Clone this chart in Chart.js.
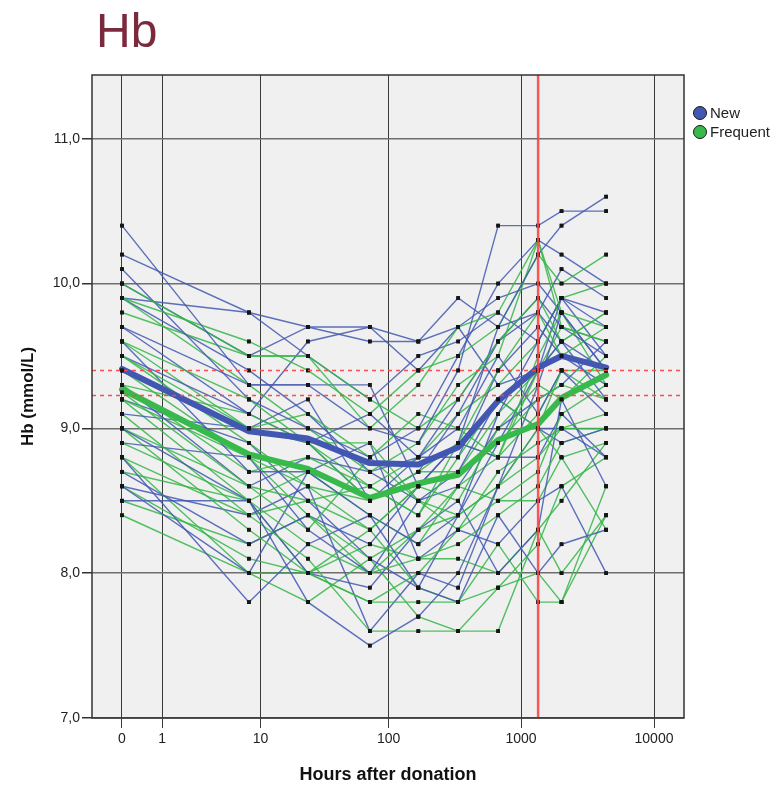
<!DOCTYPE html>
<html><head><meta charset="utf-8">
<script src="https://cdn.jsdelivr.net/npm/chart.js@4.4.1/dist/chart.umd.min.js"></script>
<style>html,body{margin:0;padding:0;background:#fff}</style>
</head><body>
<canvas id="c" width="776" height="786" style="display:block;width:776px;height:786px"></canvas>
<script>
// ---- data ----
const hours = [0, 8, 24, 72, 168, 336, 672, 1344, 2016, 4368];
const xTickHours = [0, 1, 10, 100, 1000, 10000];
const yTicks = [7, 8, 9, 10, 11];
const refHour = 1344;
const refLevels = [9.40, 9.23];
const seriesNames = ['New', 'Frequent'];

const meanNew      = [9.41, 8.98, 8.93, 8.76, 8.75, 8.87, 9.19, 9.42, 9.50, 9.42];
const meanFrequent = [9.27, 8.82, 8.72, 8.52, 8.62, 8.68, 8.92, 9.03, 9.21, 9.37];

const new01 = [10.4, 9.3, 9.3, 9.0, 8.9, 9.4, 10.4, 10.4, 10.5, 10.5];
const new02 = [10.2, 9.8, 9.7, 9.7, 9.6, 9.9, 9.7, 10.2, 10.4, 10.6];
const new03 = [10.1, 9.2, 9.0, 8.8, 9.0, 9.5, 10.0, 10.3, 10.2, 10.0];
const new04 = [10.0, 9.5, 9.7, 9.6, 9.6, 9.7, 9.9, 10.0, 9.8, 9.4];
const new05 = [9.9, 9.8, 9.5, 9.2, 9.5, 9.6, 9.8, 9.6, 9.9, 9.8];
const new06 = [9.9, 9.4, 9.1, 8.7, 8.8, 9.2, 9.6, 9.9, 9.7, 9.5];
const new07 = [9.7, 9.3, 9.3, 9.3, 8.6, 8.9, 9.7, 9.8, 9.6, 9.2];
const new08 = [9.6, 8.7, 8.7, 8.4, 8.2, 8.4, 9.1, 9.6, 9.9, 9.5];
const new09 = [9.5, 9.1, 9.6, 9.7, 9.4, 9.7, 9.3, 9.4, 9.6, 9.4];
const new10 = [9.4, 9.0, 8.9, 9.1, 8.8, 8.8, 9.4, 9.7, 9.5, 9.3];
const new11 = [9.3, 8.6, 8.8, 8.7, 8.5, 8.6, 9.0, 9.2, 9.3, 9.6];
const new12 = [9.1, 9.0, 9.2, 8.5, 8.8, 9.0, 9.5, 9.1, 9.4, 9.1];
const new13 = [9.0, 8.5, 7.8, 7.5, 7.7, 8.0, 8.6, 9.3, 9.8, 9.4];
const new14 = [8.9, 8.8, 8.3, 8.0, 8.5, 8.7, 9.2, 9.0, 8.9, 9.0];
const new15 = [8.8, 7.8, 8.2, 8.4, 7.9, 7.8, 8.4, 8.0, 8.2, 8.3];
const new16 = [8.7, 8.2, 8.4, 8.2, 8.6, 8.9, 8.8, 8.8, 9.1, 8.8];
const new17 = [8.6, 8.0, 8.7, 8.9, 8.1, 8.3, 8.2, 8.5, 8.6, 8.0];
const new18 = [8.5, 8.5, 8.0, 7.9, 8.3, 8.5, 8.0, 8.3, 9.2, 8.6];
const new19 = [9.7, 9.1, 8.9, 8.5, 8.7, 9.1, 9.6, 9.8, 10.1, 9.9];
const new20 = [9.2, 8.9, 8.5, 8.1, 7.9, 8.4, 8.9, 9.4, 9.9, 9.7];
const new21 = [8.6, 8.4, 8.6, 7.6, 8.0, 7.9, 8.6, 9.0, 9.0, 8.8];

const freq01 = [10.0, 9.5, 9.5, 9.0, 9.3, 9.7, 9.8, 10.3, 9.8, 9.7];
const freq02 = [9.9, 9.6, 9.4, 9.1, 9.4, 9.5, 9.7, 10.2, 10.0, 10.2];
const freq03 = [9.9, 9.3, 9.0, 8.7, 8.9, 9.3, 9.5, 10.3, 9.7, 9.6];
const freq04 = [9.8, 9.5, 9.5, 9.2, 9.0, 9.2, 9.6, 9.9, 9.6, 9.8];
const freq05 = [9.6, 9.2, 8.9, 8.5, 8.7, 8.9, 9.4, 9.8, 9.5, 9.7];
const freq06 = [9.5, 9.0, 9.1, 8.8, 9.1, 9.0, 8.8, 9.5, 9.8, 9.3];
const freq07 = [9.5, 8.9, 8.6, 8.3, 8.6, 8.5, 9.0, 9.3, 9.2, 9.5];
const freq08 = [9.3, 8.7, 8.8, 8.6, 8.4, 8.8, 9.2, 9.0, 9.4, 9.4];
const freq09 = [9.3, 9.1, 8.9, 8.9, 8.5, 8.4, 8.6, 8.8, 9.0, 9.0];
const freq10 = [9.25, 8.6, 8.5, 8.3, 8.6, 8.7, 8.9, 9.2, 9.3, 9.2];
const freq11 = [9.2, 8.8, 8.4, 8.1, 8.3, 8.4, 8.6, 9.0, 8.8, 8.9];
const freq12 = [9.2, 8.5, 8.7, 8.4, 8.2, 8.6, 8.5, 8.7, 9.1, 9.3];
const freq13 = [9.1, 8.4, 8.1, 7.6, 7.6, 7.6, 7.6, 8.3, 8.0, 8.4];
const freq14 = [9.0, 8.6, 8.3, 8.8, 8.5, 8.3, 8.7, 8.9, 9.0, 9.1];
const freq15 = [9.0, 8.3, 8.0, 7.8, 7.8, 7.8, 7.9, 8.0, 7.8, 8.6];
const freq16 = [8.9, 8.5, 8.2, 8.0, 8.1, 8.2, 8.4, 8.6, 8.9, 9.0];
const freq17 = [8.8, 8.4, 8.5, 8.6, 8.4, 8.9, 8.8, 9.4, 9.6, 9.8];
const freq18 = [8.8, 8.0, 8.0, 8.3, 7.9, 7.8, 8.2, 7.8, 7.8, 8.4];
const freq19 = [8.7, 8.5, 8.0, 7.8, 8.0, 8.3, 8.5, 8.5, 8.8, 8.3];
const freq20 = [8.6, 8.1, 8.0, 8.2, 8.1, 8.1, 8.0, 8.3, 8.5, 8.9];
const freq21 = [8.5, 8.2, 8.4, 8.0, 8.3, 8.6, 8.8, 9.1, 9.4, 9.2];
const freq22 = [8.4, 8.0, 7.8, 8.1, 7.7, 7.6, 7.9, 8.2, 8.6, 8.8];
const freq23 = [9.6, 9.0, 8.9, 8.6, 8.8, 9.1, 9.3, 9.6, 9.9, 10.0];
const freq24 = [9.4, 8.8, 8.6, 8.5, 8.7, 8.7, 9.1, 9.4, 9.7, 9.6];

const newSubjects = [new01,new02,new03,new04,new05,new06,new07,new08,new09,new10,new11,new12,new13,new14,new15,new16,new17,new18,new19,new20,new21];
const freqSubjects = [freq01,freq02,freq03,freq04,freq05,freq06,freq07,freq08,freq09,freq10,freq11,freq12,freq13,freq14,freq15,freq16,freq17,freq18,freq19,freq20,freq21,freq22,freq23,freq24];

// ---- styling ----
const BLUE = '#4157b2', GREEN = '#38b94b';
const BLUE_T = 'rgba(66,88,178,0.85)', GREEN_T = 'rgba(52,182,72,0.85)';
const FONT = '"Liberation Sans Narrow", "Liberation Sans", Arial, sans-serif';

const toPts = arr => arr.map((v, i) => ({ x: hours[i] + 1, y: v }));

const datasets = [];
const nMax = Math.max(newSubjects.length, freqSubjects.length);
for (let i = 0; i < nMax; i++) {
  [[newSubjects[i], BLUE_T], [freqSubjects[i], GREEN_T]].forEach(([arr, col]) => {
    if (!arr) return;
    datasets.push({
      subject: true, data: toPts(arr), borderColor: col, borderWidth: 1.4,
      pointStyle: 'rect', pointRadius: 2.6, pointBackgroundColor: '#151515',
      pointBorderWidth: 0, order: 2, tension: 0
    });
  });
}
datasets.push({ label: seriesNames[0], data: toPts(meanNew), borderColor: BLUE, borderWidth: 6, pointRadius: 0, order: 1, borderJoinStyle: 'round', borderCapStyle: 'round' });
datasets.push({ label: seriesNames[1], data: toPts(meanFrequent), borderColor: GREEN, borderWidth: 6, pointRadius: 0, order: 0, borderJoinStyle: 'round', borderCapStyle: 'round' });

const decor = {
  id: 'decor',
  beforeDraw(chart) {
    const { ctx, chartArea: a } = chart;
    ctx.save();
    ctx.fillStyle = '#f0f0f0';
    ctx.fillRect(a.left, a.top, a.right - a.left, a.bottom - a.top);
    ctx.restore();
  },
  afterDatasetsDraw(chart) {
    const { ctx, chartArea: a, scales: { x, y } } = chart;
    chart.data.datasets.forEach((ds, i) => {
      if (ds.subject) chart.getDatasetMeta(i).data.forEach(p => p.draw(ctx, a));
    });
    ctx.save();
    ctx.strokeStyle = 'rgba(255,70,70,0.95)'; ctx.lineWidth = 1.5; ctx.setLineDash([4, 4]);
    refLevels.forEach(v => {
      const py = Math.round(y.getPixelForValue(v)) + 0.5;
      ctx.beginPath(); ctx.moveTo(a.left, py); ctx.lineTo(a.right, py); ctx.stroke();
    });
    ctx.setLineDash([]);
    const px = x.getPixelForValue(refHour + 1);
    ctx.strokeStyle = 'rgba(250,70,70,0.9)'; ctx.lineWidth = 2.5;
    ctx.beginPath(); ctx.moveTo(px, a.top); ctx.lineTo(px, a.bottom); ctx.stroke();
    ctx.strokeStyle = '#333'; ctx.lineWidth = 1.5;
    ctx.strokeRect(a.left, a.top, a.right - a.left, a.bottom - a.top);
    ctx.restore();
  },
  afterDraw(chart) {
    const { ctx } = chart;
    ctx.save();
    ctx.fillStyle = '#7a2a3c';
    ctx.font = '48px "Liberation Sans", Arial, sans-serif';
    ctx.textBaseline = 'alphabetic';
    ctx.fillText('Hb', 96, 47);
    const items = [[seriesNames[0], BLUE], [seriesNames[1], GREEN]];
    items.forEach(([t, c], i) => {
      const cy = 113 + i * 19;
      ctx.beginPath(); ctx.arc(700, cy, 6.5, 0, Math.PI * 2);
      ctx.fillStyle = c; ctx.fill();
      ctx.strokeStyle = '#1a1a1a'; ctx.lineWidth = 1; ctx.stroke();
      ctx.fillStyle = '#222'; ctx.font = '15px ' + FONT; ctx.textBaseline = 'middle';
      ctx.fillText(t, 710, cy + 1);
    });
    ctx.restore();
  }
};

new Chart(document.getElementById('c'), {
  type: 'line',
  data: { datasets },
  plugins: [decor],
  options: {
    responsive: false, animation: false, devicePixelRatio: 1,
    layout: { padding: { left: 8, right: 92, top: 75, bottom: 0 } },
    plugins: { legend: { display: false }, tooltip: { enabled: false }, title: { display: false } },
    scales: {
      x: {
        type: 'logarithmic', min: 0.595, max: 16810,
        afterBuildTicks: s => { s.ticks = xTickHours.map(h => ({ value: h + 1 })); },
        afterFit: s => { s.height = 68; },
        ticks: { callback: v => String(Math.round(v - 1)), color: '#222', font: { size: 14, family: FONT }, padding: 3, maxRotation: 0, autoSkip: false },
        grid: { color: '#3a3a3a', lineWidth: 1, tickLength: 10, tickColor: '#3a3a3a' },
        border: { display: false },
        title: { display: true, text: 'Hours after donation', color: '#111', font: { size: 18, weight: 'bold', family: '"Liberation Sans", Arial, sans-serif' }, padding: { top: 0, bottom: 0 } }
      },
      y: {
        type: 'linear', min: 7, max: 11.44,
        afterBuildTicks: s => { s.ticks = yTicks.map(v => ({ value: v })); },
        afterFit: s => { s.width = 84; },
        ticks: { callback: v => v.toFixed(1).replace('.', ','), color: '#222', font: { size: 14, family: FONT }, padding: 2 },
        grid: { color: '#6e6e6e', lineWidth: 1.5, tickLength: 10, tickColor: '#333' },
        border: { display: false },
        title: { display: true, text: 'Hb (mmol/L)', color: '#111', font: { size: 17, weight: 'bold', family: '"Liberation Sans", Arial, sans-serif' }, padding: { top: 10, bottom: 0 } }
      }
    }
  }
});
</script>
</body></html>
